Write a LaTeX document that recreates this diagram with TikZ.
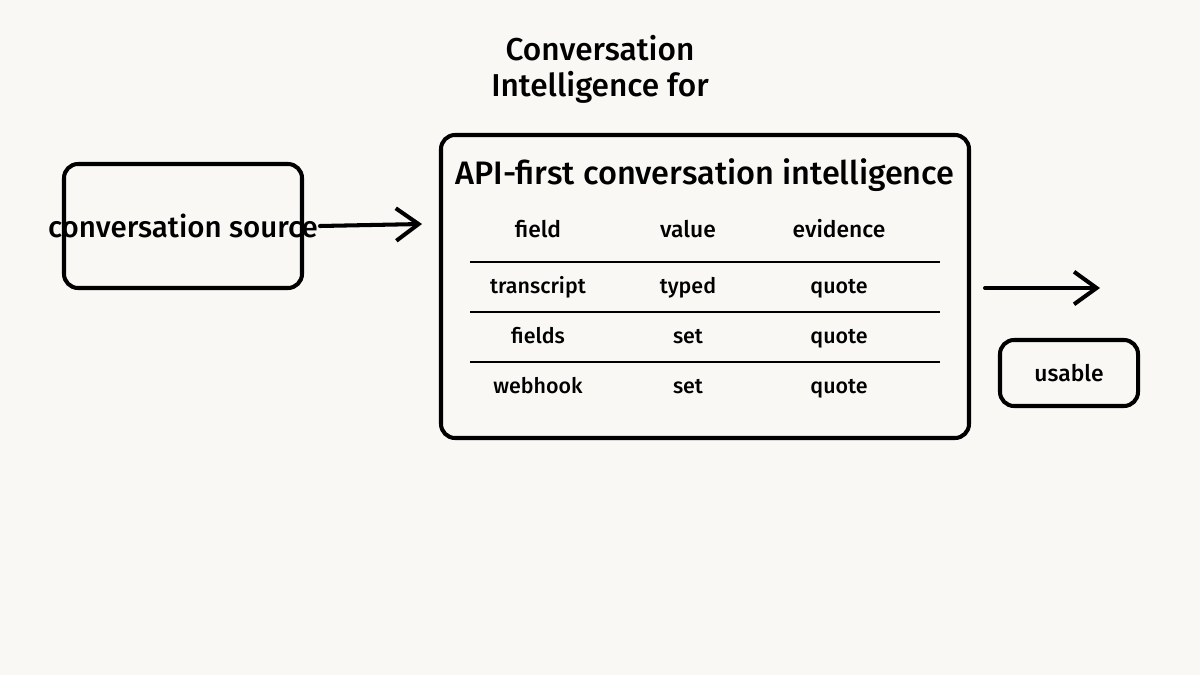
\documentclass[tikz,border=0pt]{standalone}
\usepackage{fontspec}
\setmainfont{Fira Sans Medium}
\usepackage{xcolor}
\usetikzlibrary{arrows.meta,positioning,backgrounds}
\definecolor{paper}{HTML}{F9F8F5}

\begin{document}
\begin{tikzpicture}[
    font=\fontsize{12}{14}\selectfont,
    >={Straight Barb[length=4.5mm,width=6.5mm]},
    % Styles
    box/.style={rectangle, draw=black, line width=2.3pt, rounded corners=8pt, align=center},
    cell/.style={anchor=center, text height=1.6ex, text depth=.45ex, font=\fontsize{12.2}{14}\selectfont},
    headcell/.style={cell, font=\fontsize{13}{15}\selectfont},
    arrow/.style={->, line width=2.3pt, line cap=round, draw=black},
    rule/.style={line width=1.2pt, draw=black}
]

% --- Canvas ---
\fill[paper] (0,0) rectangle (24,13.5);
\useasboundingbox (0,0) rectangle (24,13.5);

% --- Title ---
\node[align=center, font=\fontsize{18}{20.5}\selectfont] (title) at (12,12.12) {Conversation\\Intelligence for};

% --- Source ---
\node[box, minimum width=4.76cm, minimum height=2.48cm] (source) at (3.66,8.98) {};
\node[font=\fontsize{16.8}{18}\selectfont, inner sep=1pt] (src_label) at (source.center) {conversation source};

% --- Main panel ---
\node[box, minimum width=10.56cm, minimum height=6.06cm] (panel) at (14.1,7.77) {};
\node[font=\fontsize{18.5}{20}\selectfont] (panel_title) at (14.1,10.0) {API-first conversation intelligence};

% Table header
\node[headcell] (h_field) at (10.76,8.86) {field};
\node[headcell] (h_value) at (13.76,8.86) {value};
\node[headcell] (h_evid) at (16.78,8.86) {evidence};

% Table rows
\node[cell] (r1_field) at (10.76,7.74) {transcript};
\node[cell] (r1_value) at (13.76,7.74) {typed};
\node[cell] (r1_evid) at (16.78,7.74) {quote};
\node[cell] (r2_field) at (10.76,6.74) {fields};
\node[cell] (r2_value) at (13.76,6.74) {set};
\node[cell] (r2_evid) at (16.78,6.74) {quote};
\node[cell] (r3_field) at (10.76,5.74) {webhook};
\node[cell] (r3_value) at (13.76,5.74) {set};
\node[cell] (r3_evid) at (16.78,5.74) {quote};

% Table rules
\draw[rule] (9.4,8.26) -- (18.8,8.26);
\draw[rule] (9.4,7.26) -- (18.8,7.26);
\draw[rule] (9.4,6.26) -- (18.8,6.26);

% --- Output ---
\node[box, minimum width=2.76cm, minimum height=1.32cm, font=\fontsize{13}{15}\selectfont] (usable) at (21.38,6.04) {usable};
\coordinate (out_start) at (19.7,7.74);
\coordinate (out_end) at (22,7.74);

% --- Connections ---
\draw[arrow] (src_label.east) -- (8.44,9.02);
\draw[arrow] (out_start) -- (out_end);

\end{tikzpicture}
\end{document}
